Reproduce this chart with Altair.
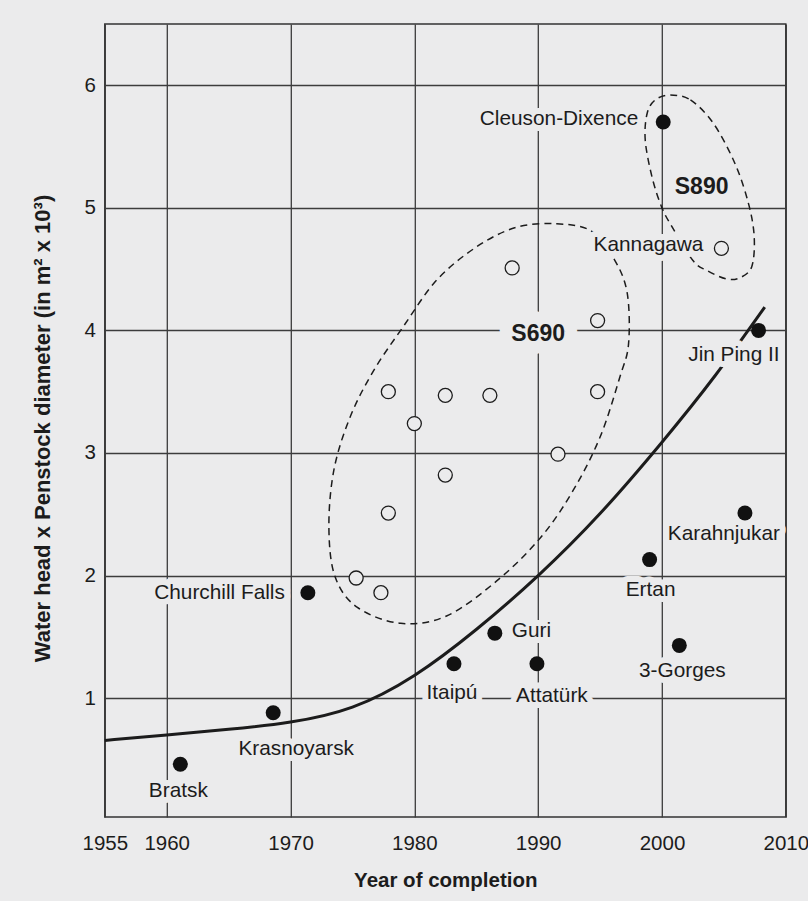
import altair as alt
import pandas as pd

BG = "#ebebec"
INK = "#1c1c1c"
GRID = "#3c3c3c"
FONT = "Liberation Sans"

# ---- plants (filled markers) ----
plants = ["Bratsk", "Krasnoyarsk", "Churchill Falls", "Itaipú", "Guri", "Attatürk",
          "Ertan", "3-Gorges", "Karahnjukar", "Jin Ping II", "Cleuson-Dixence"]
plant_year = [1961.1, 1968.6, 1971.4, 1983.2, 1986.5, 1989.9,
              1999.0, 2001.4, 2006.7, 2007.8, 2000.1]
plant_value = [0.46, 0.88, 1.86, 1.28, 1.53, 1.28,
               2.13, 1.43, 2.51, 4.00, 5.70]

# ---- S690 / S890 penstocks (open markers) ----
open_names = [""] * 12 + ["Kannagawa"]
open_year = [1987.9, 1994.8, 1977.9, 1982.5, 1986.1, 1994.8, 1980.0,
             1991.6, 1982.5, 1977.9, 1975.3, 1977.3, 2004.8]
open_value = [4.51, 4.08, 3.50, 3.47, 3.47, 3.50, 3.24,
              2.99, 2.82, 2.51, 1.98, 1.86, 4.67]

# ---- trend curve ----
trend_year = [1955, 1960, 1965, 1970, 1975, 1980, 1985, 1990, 1995, 2000, 2004.3, 2008.3]
trend_value = [0.655, 0.70, 0.745, 0.805, 0.927, 1.185, 1.56, 2.00, 2.506, 3.088, 3.632, 4.19]

# ---- grade envelopes (outline points, clockwise) ----
s690_year = [1991.5, 1994.3, 1996.2, 1997.2, 1997.3, 1996.6, 1995.0, 1992.8, 1990.2,
             1986.7, 1982.6, 1978.9, 1975.4, 1973.6, 1973.1, 1973.5, 1974.8, 1976.7,
             1979.1, 1981.8, 1985.0, 1988.2]
s690_value = [4.87, 4.81, 4.57, 4.30, 3.89, 3.62, 3.13, 2.69, 2.31,
              1.96, 1.67, 1.61, 1.74, 1.99, 2.39, 2.86, 3.29, 3.67,
              4.03, 4.41, 4.68, 4.84]
s890_year = [2000.65, 2002.3, 2004.15, 2005.9, 2007.0, 2007.45, 2007.25, 2006.3, 2005.2,
             2003.6, 2002.5, 2000.9, 2000.0, 1999.2, 1998.65, 1998.8, 1999.45]
s890_value = [5.92, 5.88, 5.69, 5.36, 5.03, 4.76, 4.52, 4.43, 4.42,
              4.49, 4.57, 4.83, 5.00, 5.25, 5.55, 5.77, 5.88]

# ---- grade captions ----
grades = ["S690", "S890"]
grade_year = [1990.0, 2003.2]
grade_value = [3.97, 5.17]

# ---- axis ticks ----
x_ticks = [1955, 1960, 1970, 1980, 1990, 2000, 2010]
y_ticks = [1, 2, 3, 4, 5, 6]

# label placement relative to its marker: (align, dx, dy) with alphabetic baseline
label_place = {
    "Bratsk": ("center", -2, 33),
    "Krasnoyarsk": ("center", 23, 42),
    "Churchill Falls": ("right", -23, 6),
    "Itaipú": ("center", -2, 35),
    "Guri": ("left", 17, 4),
    "Attatürk": ("center", 15, 38),
    "Ertan": ("center", 1, 36),
    "3-Gorges": ("center", 3, 32),
    "Karahnjukar": ("right", 35, 27),
    "Jin Ping II": ("right", 21, 31),
    "Cleuson-Dixence": ("right", -25, 3),
    "Kannagawa": ("right", -18, 3),
}
grade_halo_width = {"S690": 26, "S890": 14}

filled_df = pd.DataFrame({"name": plants, "year": plant_year, "value": plant_value})
open_df = pd.DataFrame({"name": open_names, "year": open_year, "value": open_value})
labels_df = pd.concat([filled_df, open_df[open_df["name"] != ""]], ignore_index=True)
trend_df = pd.DataFrame({"year": trend_year, "value": trend_value})
env_df = pd.concat([
    pd.DataFrame({"grade": "S690", "idx": range(len(s690_year)), "year": s690_year, "value": s690_value}),
    pd.DataFrame({"grade": "S890", "idx": range(len(s890_year)), "year": s890_year, "value": s890_value}),
], ignore_index=True)
grade_df = pd.DataFrame({"grade": grades, "year": grade_year, "value": grade_value})

x_enc = alt.X(
    "year:Q",
    scale=alt.Scale(domain=[1955, 2010], nice=False, zero=False),
    axis=alt.Axis(
        values=x_ticks, format="d", title="Year of completion",
        grid=True, gridColor=GRID, gridWidth=1.3, domain=False,
        ticks=False, tickSize=0, labelPadding=32, labelBaseline="alphabetic",
        labelFont=FONT, labelFontSize=20.5, labelColor=INK,
        labelFlush=False, labelOverlap=False,
        titleFont=FONT, titleFontSize=20.5, titleFontWeight="bold", titleColor=INK,
        titleY=69, titleBaseline="alphabetic",
    ),
)
y_enc = alt.Y(
    "value:Q",
    scale=alt.Scale(domain=[0.03, 6.5], nice=False, zero=False),
    axis=alt.Axis(
        values=y_ticks, format="d", title="Water head x Penstock diameter (in m² x 10³)",
        grid=True, gridColor=GRID, gridWidth=1.3, domain=False,
        ticks=False, tickSize=0, labelPadding=9.5,
        labelFont=FONT, labelFontSize=20.5, labelColor=INK, labelOverlap=False,
        titleFont=FONT, titleFontSize=22, titleFontWeight="bold", titleColor=INK,
        titleAngle=270, titleX=-55, titleY=404, titleAlign="center",
        titleBaseline="alphabetic",
    ),
)

envelopes = alt.Chart(env_df).mark_line(
    color=INK, strokeWidth=1.5, strokeDash=[7, 5], interpolate="cardinal-closed"
).encode(x=x_enc, y=y_enc, detail="grade:N", order="idx:Q")

trend = alt.Chart(trend_df).mark_line(
    color=INK, strokeWidth=3, interpolate="natural"
).encode(x=x_enc, y=y_enc)

halos, texts = [], []
for name, (align, dx, dy) in label_place.items():
    base = alt.Chart(labels_df).transform_filter(
        alt.FieldEqualPredicate(field="name", equal=name)
    )
    common = dict(align=align, dx=dx, dy=dy, baseline="alphabetic", font=FONT, fontSize=20.8)
    halos.append(base.mark_text(
        color=BG, stroke=BG, strokeWidth=12, strokeJoin="round", **common
    ).encode(x=x_enc, y=y_enc, text="name:N"))
    texts.append(base.mark_text(color=INK, **common).encode(x=x_enc, y=y_enc, text="name:N"))

grade_common = dict(align="center", baseline="middle", font=FONT, fontSize=23, fontWeight="bold")
for g in grades:
    base = alt.Chart(grade_df).transform_filter(alt.FieldEqualPredicate(field="grade", equal=g))
    halos.append(base.mark_text(
        color=BG, stroke=BG, strokeWidth=grade_halo_width[g], strokeJoin="round", **grade_common
    ).encode(x=x_enc, y=y_enc, text="grade:N"))
    texts.append(base.mark_text(color=INK, **grade_common).encode(x=x_enc, y=y_enc, text="grade:N"))

open_pts = alt.Chart(open_df).mark_point(
    shape="circle", filled=True, fill=BG, stroke=INK, strokeWidth=1.3, size=196, opacity=1
).encode(x=x_enc, y=y_enc)
filled_pts = alt.Chart(filled_df).mark_point(
    shape="circle", filled=True, color="#111111", strokeWidth=0, size=225, opacity=1
).encode(x=x_enc, y=y_enc)

chart = alt.layer(
    envelopes, trend, *halos, *texts, open_pts, filled_pts
).properties(
    width=681,
    height=793,
    padding={"left": 104.8, "top": 24, "right": 22.2, "bottom": 84},
    autosize=alt.AutoSizeParams(type="none"),
    background=BG,
).configure_view(
    stroke="#333333", strokeWidth=1.5, fill=BG
)

chart.save("out.html", embed_options={"renderer": "svg", "actions": False})
